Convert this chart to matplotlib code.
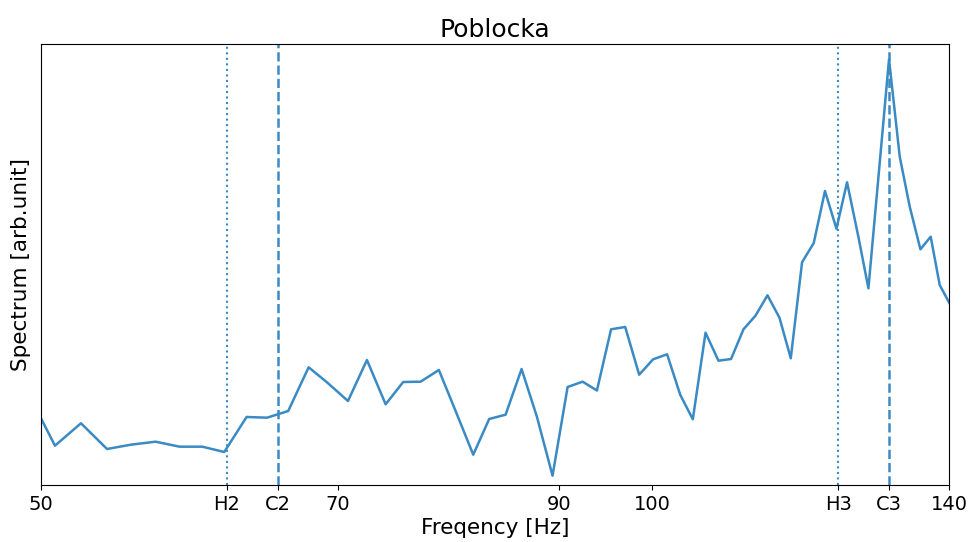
import numpy as np
import matplotlib
matplotlib.use("Agg")
import matplotlib.pyplot as plt

# Spectrum (arbitrary units)
freq = [50.0, 50.80, 52.32, 53.89, 55.37, 56.94, 58.51, 60.03, 61.55, 63.13,
        64.61, 66.18, 67.73, 69.17, 70.82, 72.36, 73.91, 75.40, 76.90, 78.51,
        80.05, 81.63, 83.12, 84.68, 86.23, 87.74, 89.31, 90.85, 92.41, 93.92,
        95.44, 96.98, 98.53, 100.10, 101.70, 103.22, 104.71, 106.23, 107.80, 109.35,
        110.90, 112.42, 113.96, 115.52, 117.01, 118.52, 120.10, 121.64, 123.23, 124.72,
        126.34, 127.78, 129.28, 130.80, 132.40, 133.91, 135.54, 137.13, 138.54, 140.23]
spectrum = [6.67, 3.93, 6.17, 3.60, 4.03, 4.33, 3.83, 3.83, 3.30, 6.80,
            6.73, 7.40, 11.77, 10.25, 8.40, 12.50, 8.07, 10.30, 10.33, 11.50,
            7.30, 3.03, 6.60, 7.03, 11.60, 6.83, 0.93, 9.80, 10.33, 9.45,
            15.57, 15.80, 11.03, 12.57, 13.07, 9.03, 6.57, 15.23, 12.43, 12.60,
            15.57, 16.93, 18.97, 16.73, 12.67, 22.28, 24.20, 29.40, 25.63, 30.27,
            24.80, 19.67, 31.10, 42.57, 32.83, 27.83, 23.57, 24.83, 20.00, 18.00]

# note frequencies (German naming: H = B)
H2, C2 = 61.74, 65.41
H3, C3 = 123.47, 130.81

tick_pos = [50, H2, C2, 70, 90, 100, H3, C3, 140]
tick_lab = ['50', 'H2', 'C2', '70', '90', '100', 'H3', 'C3', '140']

col = '#3a8ac4'

fig = plt.figure(figsize=(9.71, 5.42), dpi=100)
ax = fig.add_axes([0.0422, 0.1052, 0.9351, 0.8136])

ax.plot(freq, spectrum, color=col, lw=1.8)
ax.axvline(H2, color=col, ls=':', lw=1.5)
ax.axvline(H3, color=col, ls=':', lw=1.5)
ax.axvline(C2, color=col, ls='--', lw=1.8)
ax.axvline(C3, color=col, ls='--', lw=1.8)

ax.set_xscale('log')
ax.set_xlim(50, 140)
ax.set_ylim(0, 44.1)
ax.xaxis.set_minor_locator(matplotlib.ticker.NullLocator())
ax.set_xticks(tick_pos)
ax.set_xticklabels(tick_lab)
ax.set_yticks([])
ax.tick_params(axis='x', labelsize=14)

ax.set_title('Poblocka', fontsize=18, pad=5)
ax.set_xlabel('Freqency [Hz]', fontsize=15.5, labelpad=3)
ax.set_ylabel('Spectrum [arb.unit]', fontsize=15.5, labelpad=7)

fig.savefig('out.png', dpi=100)
